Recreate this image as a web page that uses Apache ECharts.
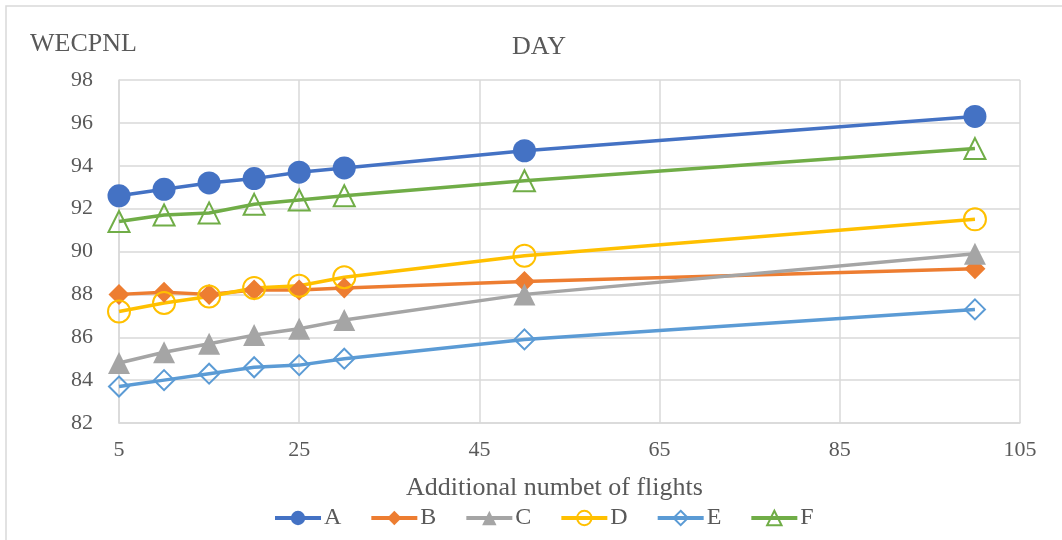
<!DOCTYPE html>
<html>
<head>
<meta charset="utf-8">
<script src="https://cdn.jsdelivr.net/npm/echarts@6/dist/echarts.min.js"></script>
<style>
  html, body { margin: 0; padding: 0; background: #ffffff; }
  #chart { width: 1062px; height: 540px; }
</style>
</head>
<body>
<div id="chart"></div>
<script>
// Additional number of flights (x values)
const flights = [5, 10, 15, 20, 25, 30, 50, 100];

// WECPNL per scenario
const seriesNames = ['A', 'B', 'C', 'D', 'E', 'F'];
const valuesA = [92.6, 92.9, 93.2, 93.4, 93.7, 93.9, 94.7, 96.3];
const valuesB = [88.0, 88.1, 88.0, 88.2, 88.2, 88.3, 88.6, 89.2];
const valuesC = [84.8, 85.3, 85.7, 86.1, 86.4, 86.8, 88.0, 89.9];
const valuesD = [87.2, 87.6, 87.9, 88.3, 88.4, 88.8, 89.8, 91.5];
const valuesE = [83.7, 84.0, 84.3, 84.6, 84.7, 85.0, 85.9, 87.3];
const valuesF = [91.4, 91.7, 91.8, 92.2, 92.4, 92.6, 93.3, 94.8];

const xTicks = { min: 5, max: 105, interval: 20 };
const yTicks = { min: 82, max: 98, interval: 2 };

const FONT = '"Liberation Serif", "Times New Roman", serif';
const TEXT = '#595959';
const GRID = '#d9d9d9';

function pairs(vals) {
  return flights.map((x, i) => [x, vals[i]]);
}

function lineSeries(name, vals, color, symbol, size, hollow) {
  return {
    name: name,
    type: 'line',
    data: pairs(vals),
    symbol: symbol,
    symbolSize: size,
    showAllSymbol: true,
    lineStyle: { color: color, width: 3.5 },
    itemStyle: hollow
      ? { color: 'rgba(255,255,255,0)', borderColor: color, borderWidth: 2 }
      : { color: color, borderWidth: 0 },
    emphasis: { disabled: true },
    z: 2
  };
}

const chart = echarts.init(document.getElementById('chart'), null, { renderer: 'canvas' });

chart.setOption({
  animation: false,
  backgroundColor: '#ffffff',
  title: {
    text: 'DAY',
    left: 507,
    top: 29,
    textStyle: { fontFamily: FONT, fontSize: 26, fontWeight: 'normal', color: TEXT }
  },
  graphic: [
    {
      type: 'rect',
      shape: { x: 6, y: 6, width: 1100, height: 600 },
      style: { fill: 'none', stroke: GRID, lineWidth: 1.5 },
      silent: true
    },
    {
      type: 'text',
      left: 30,
      top: 31,
      style: { text: 'WECPNL', fontFamily: FONT, fontSize: 26, fill: TEXT }
    }
  ],
  legend: {
    data: seriesNames,
    left: 268,
    top: 501,
    itemWidth: 46,
    itemHeight: 18,
    itemGap: 28,
    lineStyle: { width: 4 },
    textStyle: { fontFamily: FONT, fontSize: 24, color: TEXT, padding: [0, 0, 0, -2] }
  },
  grid: { left: 119, right: 42, top: 80, bottom: 117, containLabel: false },
  xAxis: {
    type: 'value',
    min: xTicks.min,
    max: xTicks.max,
    interval: xTicks.interval,
    name: 'Additional numbet of flights',
    nameLocation: 'middle',
    nameGap: 52,
    nameTextStyle: { fontFamily: FONT, fontSize: 26, color: TEXT, padding: [0, 0, 0, -30] },
    axisLine: { show: true, lineStyle: { color: GRID, width: 1.5 } },
    axisTick: { show: false },
    splitLine: { show: true, lineStyle: { color: GRID, width: 1.5 } },
    axisLabel: { fontFamily: FONT, fontSize: 22, color: TEXT, margin: 16 }
  },
  yAxis: {
    type: 'value',
    min: yTicks.min,
    max: yTicks.max,
    interval: yTicks.interval,
    axisLine: { show: true, lineStyle: { color: GRID, width: 1.5 } },
    axisTick: { show: false },
    splitLine: { show: true, lineStyle: { color: GRID, width: 1.5 } },
    axisLabel: { fontFamily: FONT, fontSize: 22, color: TEXT, margin: 26 }
  },
  series: [
    lineSeries('A', valuesA, '#4472C4', 'circle', 23, false),
    lineSeries('B', valuesB, '#ED7D31', 'diamond', 21, false),
    lineSeries('C', valuesC, '#A5A5A5', 'triangle', 22, false),
    lineSeries('D', valuesD, '#FFC000', 'circle', 22, true),
    lineSeries('E', valuesE, '#5B9BD5', 'diamond', 20, true),
    lineSeries('F', valuesF, '#70AD47', 'triangle', 21, true)
  ]
});
</script>
</body>
</html>
